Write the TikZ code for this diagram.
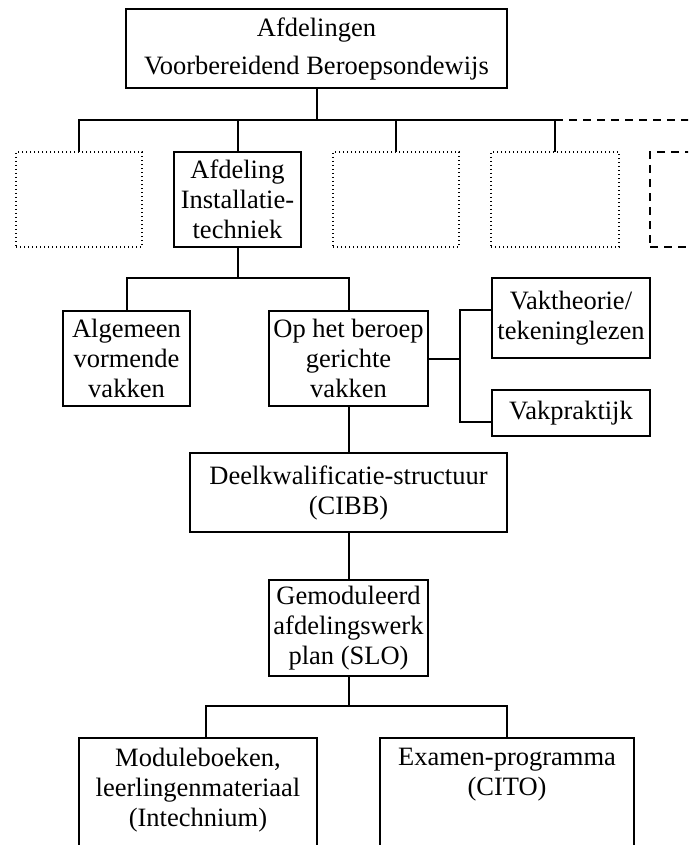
\documentclass[tikz,border=0pt]{standalone}
\usepackage{fontspec}
\setmainfont{Liberation Serif}
\begin{document}
\begin{tikzpicture}[x=1pt,y=-1pt,
  every node/.style={inner sep=0pt, outer sep=0pt},
  txt/.style={align=center, font=\fontsize{26.5}{30}\selectfont},
  box/.style={txt, draw, line width=1.2pt},
  dotbox/.style={draw, line width=1.3pt, dash pattern=on 1.4pt off 2.6pt},
  dashbox/.style={draw, line width=2.6pt, dash pattern=on 8pt off 6pt},
  conn/.style={line width=2pt},
  dconn/.style={line width=1.8pt, dash pattern=on 8pt off 6pt}]
\useasboundingbox (0,0) rectangle (688,845);
\clip (0,0) rectangle (688,845);
% top
\node[box, font=\fontsize{26.5}{38}\selectfont, minimum width=381, minimum height=79] (top) at (316.5,48.5) {Afdelingen\\Voorbereidend Beroepsondewijs};
% row 2
\node[dotbox, minimum width=126, minimum height=95] (b1) at (79,199.5) {};
\node[box, minimum width=127, minimum height=95] (b2) at (237.5,199.5) {Afdeling\\Installatie-\\techniek};
\node[dotbox, minimum width=126, minimum height=95] (b3) at (396,199.5) {};
\node[dotbox, minimum width=128, minimum height=95] (b4) at (555,199.5) {};
\node[dashbox, minimum width=128, minimum height=95] (b5) at (714,199.5) {};
\coordinate (j1) at (316.5,120);
\coordinate (jr) at (690,120);
\draw[conn] (top.south) -- (j1);
\draw[conn] (b1.north) -- (b1.north |- j1) -- (b4.north |- j1) -- (b4.north);
\draw[conn] (b2.north) -- (b2.north |- j1);
\draw[conn] (b3.north) -- (b3.north |- j1);
\draw[dconn] (b4.north |- j1) -- (jr);
% row 3
\node[box, minimum width=127, minimum height=95] (alg) at (126.5,358.5) {Algemeen\\vormende\\vakken};
\node[box, minimum width=159, minimum height=95] (op) at (348.5,358.5) {Op het beroep\\gerichte\\vakken};
\coordinate (j2) at (237.5,278);
\draw[conn] (b2.south) -- (j2);
\draw[conn] (alg.north) -- (alg.north |- j2) -- (op.north |- j2) -- (op.north);
% side boxes
\node[box, minimum width=158, minimum height=80] (vt) at (571,318) {Vaktheorie/\\tekeninglezen};
\node[box, minimum width=158, minimum height=46] (vp) at (571,413) {Vakpraktijk};
\coordinate (br) at (460,358.5);
\coordinate (brt) at (460,310);
\coordinate (brb) at (460,422);
\draw[conn] (op.east) -- (br);
\draw[conn] (vt.west |- brt) -- (brt) -- (brb) -- (vp.west |- brb);
% Deel
\node[box, minimum width=317, minimum height=79] (deel) at (348.5,492.5) {Deelkwalificatie-structuur\\(CIBB)};
\draw[conn] (op.south) -- (deel.north);
\node[box, minimum width=159, minimum height=96] (gem) at (348.5,628) {Gemoduleerd\\afdelingswerk\\plan (SLO)};
\draw[conn] (deel.south) -- (gem.south |- deel.south) -- (gem.north);
% bottom
\node[draw, line width=1.2pt, minimum width=238, minimum height=140, anchor=north] (mod) at (198,738) {};
\node[draw, line width=1.2pt, minimum width=254, minimum height=140, anchor=north] (exa) at (507,738) {};
\node[txt, anchor=north] (modt) at (198,748) {Moduleboeken,\\leerlingenmateriaal\\(Intechnium)};
\node[txt, anchor=north] (exat) at (507,748) {Examen-programma\\(CITO)};
\coordinate (j3) at (348.5,706);
\draw[conn] (gem.south) -- (j3);
\draw[conn] ([xshift=8pt]mod.north) -- ([xshift=8pt]mod.north |- j3) -- (exa.north |- j3) -- (exa.north);
\end{tikzpicture}
\end{document}
